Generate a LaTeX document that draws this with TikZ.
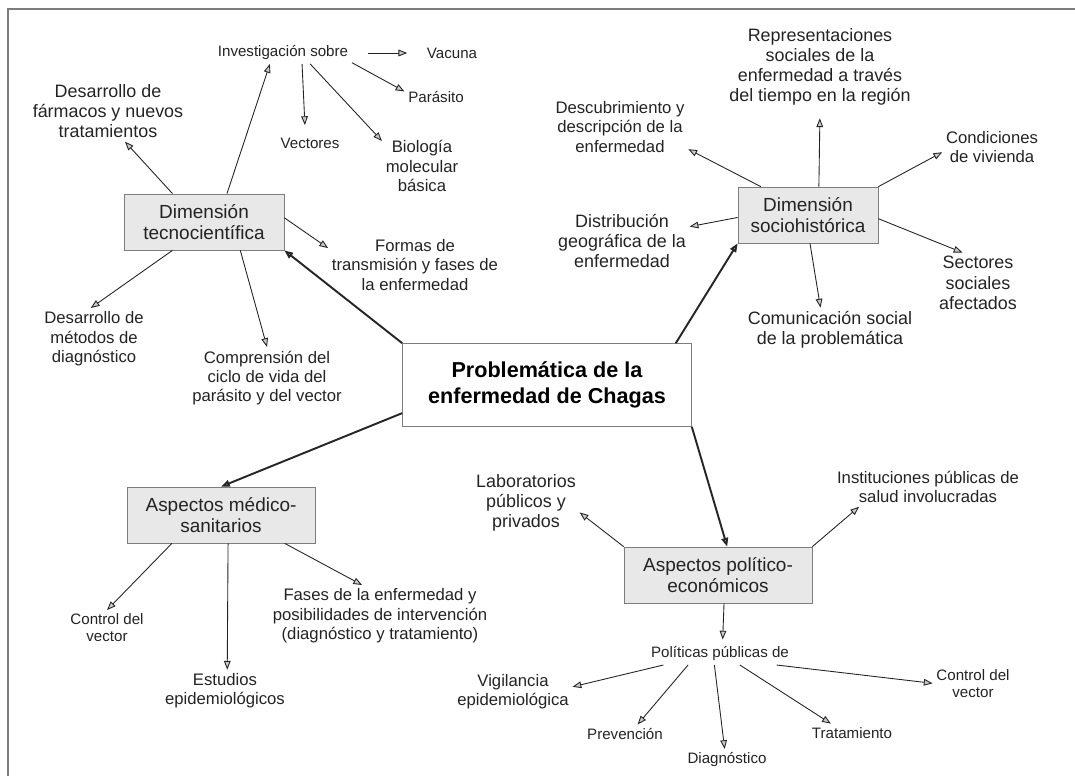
\documentclass[tikz,border=0pt]{standalone}
\usepackage{fontspec}
\setmainfont{Liberation Sans}
\usetikzlibrary{arrows.meta}
\definecolor{boxgray}{RGB}{232,232,232}
\definecolor{edgegray}{RGB}{125,125,125}
\definecolor{inkgray}{RGB}{35,35,35}

\begin{document}
\begin{tikzpicture}[x=0.02cm,y=-0.02cm,>={Triangle[length=5pt,width=3.8pt,fill=gray!40]},
    dimbox/.style={draw=edgegray,fill=boxgray,minimum height=1.12cm,align=center,inner sep=2pt,text=inkgray,font=\fontsize{10.8}{12}\selectfont},
    hub/.style={draw=edgegray,fill=white,minimum width=5.78cm,minimum height=1.66cm,align=center,text=black,font=\bfseries\fontsize{12.3}{14.7}\selectfont},
    leaf/.style={align=center,inner sep=2pt,text=inkgray,font=\fontsize{10.2}{11.5}\selectfont},
    leafmd/.style={leaf,font=\fontsize{9.5}{11}\selectfont},
    leafsm/.style={leaf,font=\fontsize{8.6}{9.7}\selectfont},
    link/.style={->,draw=inkgray,line width=0.5pt},
    mainlink/.style={->,draw=black!85,line width=1.1pt}]
    \useasboundingbox (0,0) rectangle (1075,776);
    \draw[edgegray,line width=1.3pt] (8,776) -- (8,9) -- (1075,9);

    % centre and the four dimensions
    \node[hub] (chagas) at (547,385) {Problemática de la\\enfermedad de Chagas};
    \node[dimbox,minimum width=3.2cm] (tecno) at (204,222) {Dimensión\\tecnocientífica};
    \node[dimbox,minimum width=2.8cm] (socio) at (808,215) {Dimensión\\sociohistórica};
    \node[dimbox,minimum width=3.76cm] (medico) at (221,515) {Aspectos médico-\\sanitarios};
    \node[dimbox,minimum width=3.76cm] (politico) at (718,575) {Aspectos político-\\económicos};

    % tecnocientifica
    \node[leafsm] (invest) at (283,53) {Investigación sobre};
    \node[leafsm] (vacuna) at (452,53) {Vacuna};
    \node[leafsm] (parasito) at (436,97) {Parásito};
    \node[leafsm] (vectores) at (310,143) {Vectores};
    \node[leafmd] (biologia) at (422,166) {Biología\\molecular\\básica};
    \node[leaf] (farmacos) at (108,111) {Desarrollo de\\fármacos y nuevos\\tratamientos};
    \node[leafmd] (formas) at (415,265) {Formas de\\transmisión y fases de\\la enfermedad};
    \node[leafmd] (metodos) at (94,339) {Desarrollo de\\métodos de\\diagnóstico};
    \node[leafmd] (ciclo) at (267,378) {Comprensión del\\ciclo de vida del\\parásito y del vector};

    % sociohistorica
    \node[leaf] (repres) at (820,67) {Representaciones\\sociales de la\\enfermedad a través\\del tiempo en la región};
    \node[leafmd] (descub) at (620,127) {Descubrimiento y\\descripción de la\\enfermedad};
    \node[leafmd] (vivienda) at (992,147) {Condiciones\\de vivienda};
    \node[leaf] (distrib) at (622,241) {Distribución\\geográfica de la\\enfermedad};
    \node[leaf] (sectores) at (978,283) {Sectores\\sociales\\afectados};
    \node[leaf] (comunic) at (830,330) {Comunicación social\\de la problemática};

    % medico-sanitarios
    \node[leafsm] (control) at (107,628) {Control del\\vector};
    \node[leafmd] (estudios) at (225,691) {Estudios\\epidemiológicos};
    \node[leafmd] (fases) at (380,616) {Fases de la enfermedad y\\posibilidades de intervención\\(diagnóstico y tratamiento)};

    % politico-economicos
    \node[leaf] (labs) at (526,503) {Laboratorios\\públicos y\\privados};
    \node[leafmd] (instit) at (928,487) {Instituciones públicas de\\salud involucradas};
    \node[leafsm] (politicas) at (720,654) {Políticas públicas de};
    \node[leafmd] (vigil) at (513,692) {Vigilancia\\epidemiológica};
    \node[leafsm] (prev) at (625,734) {Prevención};
    \node[leafsm] (diag) at (727,760) {Diagnóstico};
    \node[leafsm] (trat) at (852,733) {Tratamiento};
    \node[leafsm] (vector2) at (973,684) {Control del\\vector};

    \draw[mainlink] (chagas.north west) -- (tecno.south east);
    \draw[mainlink] (chagas.18) -- (socio.south west);
    \draw[mainlink] (chagas.191) -- (medico.north);
    \draw[mainlink] (chagas.south east) -- (politico.72);

    \draw[link] (tecno.51) -- (invest.220);
    \draw[link] (tecno.138) -- (farmacos.299);
    \draw[link] (tecno.3) -- (formas.169);
    \draw[link] (tecno.222) -- (metodos.96);
    \draw[link] (tecno.322) -- (ciclo.90);
    \draw[link,shorten <=9pt,shorten >=9pt] (invest.east) -- (vacuna.west);
    \draw[link] (invest.352) -- (parasito.170);
    \draw[link,shorten >=5pt] (invest.330) -- (vectores.117);
    \draw[link] (invest.338) -- (biologia.148);

    \draw[link,shorten >=5pt] (socio.69) -- (repres.south);
    \draw[link] (socio.149) -- (descub.342);
    \draw[link] (socio.north east) -- (vivienda.186);
    \draw[link] (socio.182) -- (distrib.12);
    \draw[link] (socio.357) -- (sectores.117);
    \draw[link] (socio.274) -- (comunic.113);

    \draw[link] (medico.210) -- (control.90);
    \draw[link] (medico.284) -- (estudios.84);
    \draw[link] (medico.336) -- (fases.120);

    \draw[link] (politico.north west) -- (labs.350);
    \draw[link] (politico.north east) -- (instit.196);
    \draw[link,shorten >=2pt] (politico.282) -- (politicas.77);
    \draw[link] (politicas.191) -- (vigil.5);
    \draw[link] (politicas.199) -- (prev.37);
    \draw[link] (politicas.243) -- (diag.102);
    \draw[link] (politicas.331) -- (trat.156);
    \draw[link] (politicas.349) -- (vector2.179);
  \end{tikzpicture}
\end{document}
